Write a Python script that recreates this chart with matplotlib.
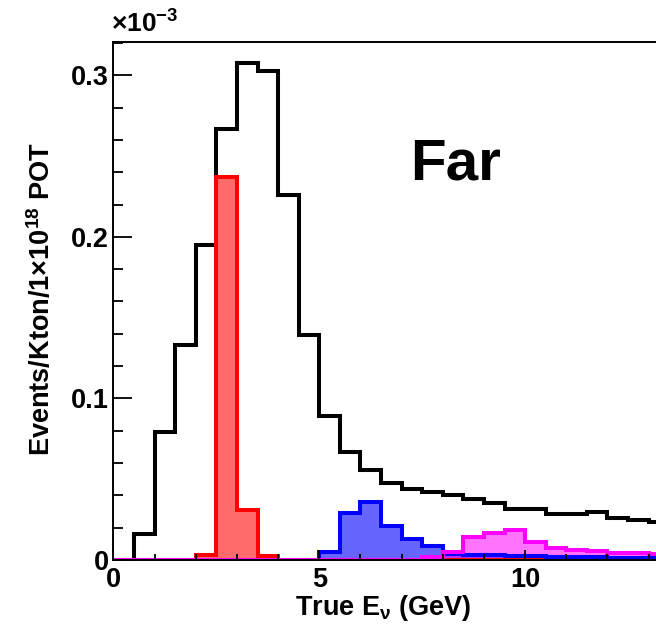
import numpy as np
import matplotlib
matplotlib.use("Agg")
import matplotlib.pyplot as plt
from matplotlib.ticker import MultipleLocator, FuncFormatter

plt.rcParams.update({
    "font.family": ["Liberation Sans", "DejaVu Sans"],
    "font.weight": "bold",
    "mathtext.fontset": "custom",
    "mathtext.rm": "Liberation Sans:bold",
    "mathtext.bf": "Liberation Sans:bold",
    "mathtext.it": "Liberation Sans:bold",
})

# bin edges in GeV (0.5 GeV bins)
edges = np.arange(0, 14.01, 0.5)

# values in units of 1e-3 Events/Kton/1e18 POT
black = [0.0, 0.0161, 0.0792, 0.133, 0.195, 0.267, 0.3077, 0.3026, 0.226, 0.139,
         0.0894, 0.0667, 0.0555, 0.0476, 0.0441, 0.0420, 0.0405, 0.0380, 0.0355, 0.0315,
         0.0315, 0.0282, 0.0282, 0.0294, 0.0258, 0.0246, 0.0234, 0.0225]
red = [0.0, 0.0, 0.0, 0.0, 0.0033, 0.2368, 0.031, 0.0027, 0.0, 0.0,
       0.0, 0.0, 0.0, 0.0, 0.0, 0.0, 0.0, 0.0, 0.0, 0.0,
       0.0, 0.0, 0.0, 0.0, 0.0, 0.0, 0.0, 0.0]
blue = [0.0, 0.0, 0.0, 0.0, 0.0, 0.0, 0.0, 0.0, 0.0, 0.0,
        0.0051, 0.0293, 0.0358, 0.0212, 0.0129, 0.0085, 0.0035, 0.0030, 0.0028, 0.0025,
        0.0022, 0.0020, 0.0018, 0.0016, 0.0015, 0.0014, 0.0013, 0.0012]
magenta = [0.0, 0.0, 0.0, 0.0, 0.0, 0.0, 0.0, 0.0, 0.0, 0.0,
           0.0, 0.0, 0.0, 0.0, 0.0, 0.002, 0.0050, 0.0142, 0.0165, 0.0185,
           0.0112, 0.0077, 0.0064, 0.0054, 0.0046, 0.0044, 0.0036, 0.0034]

W, H = 656, 624
fig = plt.figure(figsize=(W / 100, H / 100), dpi=100)
x0, y0 = 113.5, 560.0
px_per_gev = 41.16
top_px = 41.7
ax = fig.add_axes([x0 / W, (H - y0) / H, (W - x0) / W, (y0 - top_px) / H])
ax.set_xlim(0, (W - x0) / px_per_gev)
ax.set_ylim(0, 0.3208)

lw = 2.9
ax.stairs(black, edges, color="black", linewidth=lw, zorder=1.2)
for vals, col, fc in [(red, "#ff0000", (1.0, 0.0, 0.0, 0.58)),
                      (blue, "#0000ff", (0.0, 0.0, 1.0, 0.6)),
                      (magenta, "#ff00ff", (1.0, 0.0, 1.0, 0.55))]:
    ax.stairs(vals, edges, fill=True, facecolor=fc, edgecolor="none", zorder=1.3)
    ax.stairs(vals, edges, color=col, linewidth=lw, zorder=1.4)

ax.set_axisbelow(False)
ax.spines["right"].set_visible(False)
for s in ["left", "bottom", "top"]:
    ax.spines[s].set_linewidth(1.4)

ax.xaxis.set_major_locator(MultipleLocator(5))
ax.xaxis.set_minor_locator(MultipleLocator(1))
ax.yaxis.set_major_locator(MultipleLocator(0.1))
ax.yaxis.set_minor_locator(MultipleLocator(0.02))
fmt = FuncFormatter(lambda v, _: f"{v:g}")
ax.xaxis.set_major_formatter(fmt)
ax.yaxis.set_major_formatter(fmt)
ax.tick_params(axis="x", which="major", direction="in", length=7.2, width=1.3,
               labelsize=19.5, pad=5)
ax.tick_params(axis="x", which="minor", direction="in", length=4, width=1.3)
ax.tick_params(axis="y", which="major", direction="in", length=13.7, width=1.3,
               labelsize=19.5, pad=3.5)
ax.tick_params(axis="y", which="minor", direction="in", length=7.2, width=1.3)
for lab in ax.get_xticklabels() + ax.get_yticklabels():
    lab.set_fontweight("bold")

fig.text(383 / W, (H - 615) / H, r"True E$_{\mathbf{\nu}}$ (GeV)", ha="center",
         va="baseline", fontsize=19.5, fontweight="bold")
fig.text(42 / W, (H - 299) / H, r"Events/Kton/1×10$^{\mathbf{18}}$ POT", ha="center",
         va="center", rotation=90, fontsize=19.5, fontweight="bold")
fig.text(111 / W, (H - 33) / H, r"×10$^{\mathbf{-3}}$", ha="left", va="baseline",
         fontsize=19, fontweight="bold")
fig.text(410 / W, (H - 180) / H, "Far", ha="left", va="baseline", fontsize=42,
         fontweight="bold")

fig.savefig("out.png", dpi=100)
